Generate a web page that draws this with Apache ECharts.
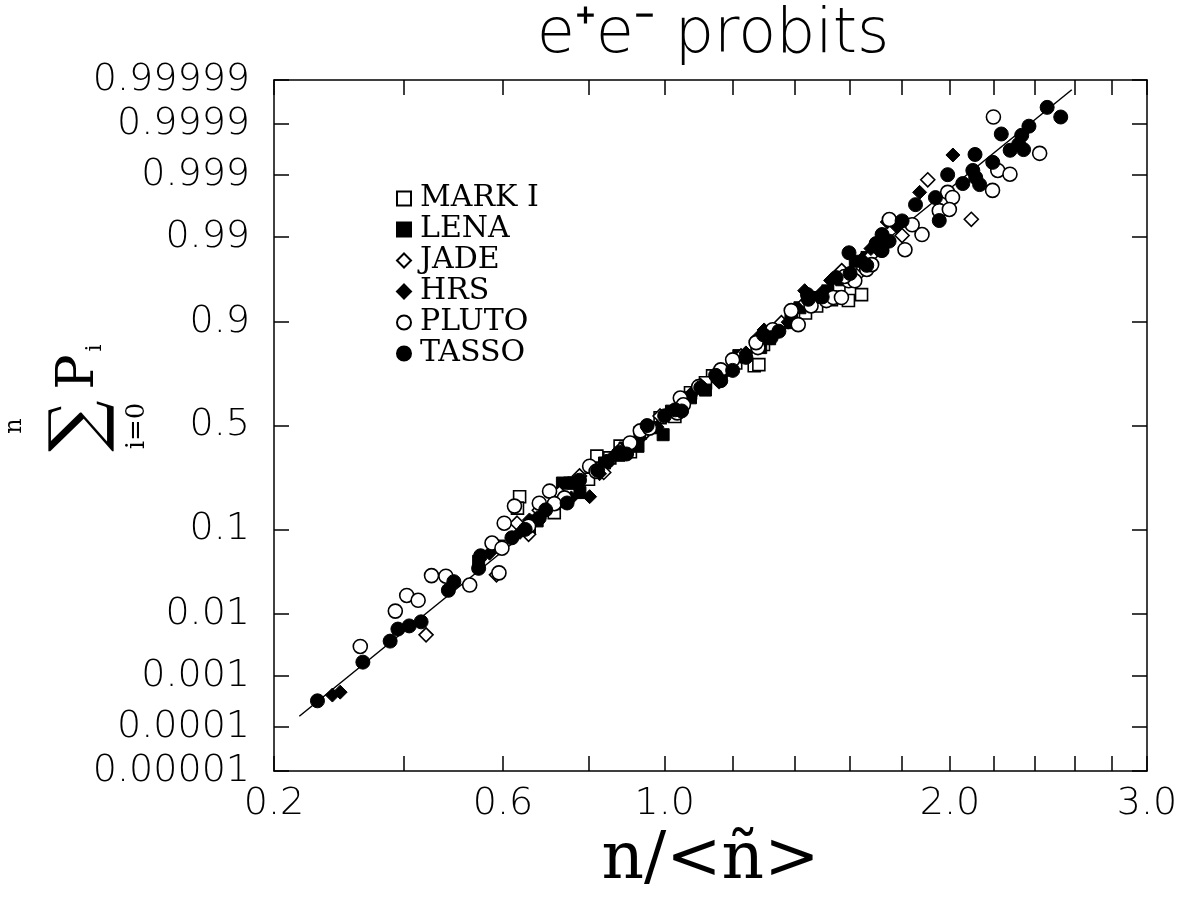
<!DOCTYPE html>
<html><head><meta charset="utf-8">
<script src="https://cdn.jsdelivr.net/npm/echarts@6/dist/echarts.min.js"></script>
<style>html,body{margin:0;padding:0;background:#fff}#c{width:1187px;height:899px}</style>
</head><body><div id="c"></div>
<script>
// ---------- axis definitions ----------
const X_TICKS = [0.2,0.4,0.6,0.8,1.0,1.2,1.4,1.6,1.8,2.0,2.2,2.4,2.6,2.8,3.0];
const X_LABEL_VALUES = [0.2,0.6,1.0,2.0,3.0];
const X_LABELS = ['0.2','0.6','1.0','2.0','3.0'];
// non-linear abscissa scale: relative axis coordinate of each tick value
const X_SCALE_KNOTS = [0,129.8,229,314.6,390.8,458.8,520.5,576.3,628.3,676.3,720.1,761.4,800.8,838.3,873.3];
const Y_TICKS = [0.00001,0.0001,0.001,0.01,0.1,0.5,0.9,0.99,0.999,0.9999,0.99999];
const Y_LABELS = ['0.00001','0.0001','0.001','0.01','0.1','0.5','0.9','0.99','0.999','0.9999','0.99999'];

// ---------- data: n/<n>, cumulative probability ----------
const MARK_X = [0.639,0.634,0.822,0.883,1.270,1.285,1.594,1.644,0.697,0.767,0.936,0.988,1.076,1.141,1.210,1.390,1.480,1.533,0.856,
  0.72,0.80,0.91,1.03,1.12,1.30,1.44,1.56];
const MARK_P = [0.19,0.154,0.353,0.40,0.77,0.774,0.9387,0.947,0.149,0.239,0.464,0.538,0.657,0.73,0.78,0.904,0.93,0.94,0.345,
  0.1412,0.254,0.3733,0.5446,0.7013,0.8413,0.9177,0.9586];
const LENA_X = [0.739,0.756,0.996,0.551,0.592,0.842,0.896,0.962,1.076,1.165,1.291,1.390,1.469,1.570,1.665,0.662,
  0.68,0.78,0.88,0.93,1.02,1.12,1.22,1.32,1.42,1.52,1.62];
const LENA_P = [0.239,0.239,0.455,0.047,0.0685,0.322,0.391,0.489,0.634,0.722,0.832,0.898,0.943,0.964,0.981,0.103,
  0.1196,0.204,0.3568,0.399,0.5706,0.6693,0.806,0.858,0.927,0.9518,0.9787];
const JADE_X = [0.445,0.587,0.633,1.907,2.097,1.723,0.732,0.883,0.988,1.106,1.227,1.358,1.497,1.625,1.800,0.779,0.685,
  0.66,0.84,0.94,1.16,1.31,1.44,1.57,1.68];
const JADE_P = [0.0049,0.0327,0.114,0.99879,0.99455,0.9898,0.202,0.382,0.547,0.688,0.805,0.898,0.9426,0.968,0.9905,0.267,0.148,
  0.0898,0.2813,0.449,0.7068,0.871,0.9357,0.9721,0.9819];
const HRS_X = [0.290,0.302,2.013,1.873,1.302,1.437,1.743,0.803,0.662,0.731,0.935,1.076,1.243,1.497,1.645,0.573,0.829,
  0.64,0.76,0.87,0.98,1.08,1.18,1.28,1.38,1.53,1.68,1.78];
const HRS_P = [0.00044,0.0005,0.99958,0.998,0.881,0.952,0.994,0.19,0.122,0.169,0.44,0.643,0.815,0.949,0.98,0.0576,0.276,
  0.0938,0.186,0.3613,0.492,0.656,0.7463,0.8595,0.899,0.9634,0.98552,0.99296];
const PLUTO_X = [0.333,0.387,0.406,0.429,0.456,0.485,0.533,0.578,0.598,0.603,0.627,0.685,0.709,0.592,0.909,0.936,1.046,1.055,1.037,1.282,1.276,1.414,1.390,1.515,1.540,1.569,1.595,1.618,1.664,1.683,1.812,1.751,1.883,1.842,1.955,1.990,2.011,1.997,2.194,2.219,2.278,2.423,2.198,0.803,1.165,0.744,
  0.66,0.72,0.82,0.96,1.10,1.20,1.33,1.46,1.58,1.72];
const PLUTO_P = [0.0032,0.011,0.018,0.0155,0.032,0.0315,0.0245,0.0735,0.065,0.114,0.16,0.169,0.209,0.0345,0.415,0.474,0.633,0.601,0.562,0.832,0.847,0.8935,0.922,0.9385,0.943,0.943,0.963,0.963,0.973,0.9765,0.985,0.9945,0.9908,0.9934,0.996,0.998,0.99756,0.99617,0.99815,0.99918,0.99904,0.99961,0.99993,0.308,0.754,0.186,
  0.1071,0.1673,0.2857,0.4872,0.6844,0.7913,0.8816,0.930,0.9671,0.98492];
const TASSO_X = [0.267,0.337,0.379,0.391,0.411,0.435,0.490,0.501,0.551,0.555,0.621,0.652,0.685,0.779,0.882,0.954,1.106,1.165,1.243,1.447,1.596,1.723,1.723,1.856,1.939,1.955,1.990,2.058,2.104,2.117,2.135,2.114,2.195,2.236,2.279,2.320,2.335,2.344,2.370,2.461,2.530,0.824,1.031,1.325,1.664,
  0.70,0.75,0.85,0.90,1.00,1.05,1.15,1.20,1.30,1.35,1.45,1.50,1.55,1.60,1.70,1.75,1.80];
const TASSO_P = [0.00034,0.00175,0.0039,0.006,0.0067,0.0077,0.021,0.027,0.039,0.054,0.083,0.10,0.127,0.25,0.37,0.50,0.68,0.71,0.80,0.947,0.9835,0.9846,0.9908,0.9968,0.99755,0.9943,0.99902,0.99859,0.99918,0.9989,0.99853,0.99959,0.99942,0.99984,0.99966,0.99974,0.99983,0.99967,0.99989,0.999957,0.99993,0.29,0.577,0.861,0.976,
  0.149,0.1696,0.3296,0.3628,0.5478,0.5714,0.7324,0.752,0.8686,0.8778,0.9404,0.9438,0.9661,0.9697,0.98765,0.98858,0.99423];
const FIT_X = [0.239, 2.586];
const FIT_P = [0.000167, 0.999983];

// ---------- scale transforms ----------
function probit(p){
  const a=[-3.969683028665376e+01,2.209460984245205e+02,-2.759285104469687e+02,1.383577518672690e+02,-3.066479806614716e+01,2.506628277459239e+00];
  const b=[-5.447609879822406e+01,1.615858368580409e+02,-1.556989798598866e+02,6.680131188771972e+01,-1.328068155288572e+01];
  const c=[-7.784894002430293e-03,-3.223964580411365e-01,-2.400758277161838e+00,-2.549732539343734e+00,4.374664141464968e+00,2.938163982698783e+00];
  const d=[7.784695709041462e-03,3.224671290700398e-01,2.445134137142996e+00,3.754408661907416e+00];
  const pl=0.02425, ph=1-pl; let q,r;
  if(p<pl){q=Math.sqrt(-2*Math.log(p));return (((((c[0]*q+c[1])*q+c[2])*q+c[3])*q+c[4])*q+c[5])/((((d[0]*q+d[1])*q+d[2])*q+d[3])*q+1);}
  if(p<=ph){q=p-0.5;r=q*q;return (((((a[0]*r+a[1])*r+a[2])*r+a[3])*r+a[4])*r+a[5])*q/(((((b[0]*r+b[1])*r+b[2])*r+b[3])*r+b[4])*r+1);}
  q=Math.sqrt(-2*Math.log(1-p));return -(((((c[0]*q+c[1])*q+c[2])*q+c[3])*q+c[4])*q+c[5])/((((d[0]*q+d[1])*q+d[2])*q+d[3])*q+1);
}
function xScale(x){
  const n = X_TICKS.length;
  let i = 0;
  if (x >= X_TICKS[n-1]) i = n-2;
  else { while (i < n-2 && x > X_TICKS[i+1]) i++; }
  const f = (x - X_TICKS[i])/(X_TICKS[i+1]-X_TICKS[i]);
  return X_SCALE_KNOTS[i] + f*(X_SCALE_KNOTS[i+1]-X_SCALE_KNOTS[i]);
}
const pts = (xs, ps) => xs.map((x,i) => [xScale(x), probit(ps[i])]);
const X_MIN = xScale(X_TICKS[0]), X_MAX = xScale(X_TICKS[X_TICKS.length-1]);
const Y_MIN = probit(Y_TICKS[0]), Y_MAX = probit(Y_TICKS[Y_TICKS.length-1]);
const xLabelOf = v => { const i = X_LABEL_VALUES.findIndex(x => Math.abs(xScale(x)-v) < 1e-6); return i<0?'':X_LABELS[i]; };
const yLabelOf = v => { const i = Y_TICKS.findIndex(p => Math.abs(probit(p)-v) < 1e-9); return i<0?'':Y_LABELS[i]; };

const AX = {color:'#000', width:1.5};
const LABEL_FONT = {fontFamily:'DejaVu Sans', fontSize:38, color:'#000', fontWeight:200};
function xAxisCfg(pos, showLabel){
  return {type:'value', position:pos, min:X_MIN, max:X_MAX,
    axisLine:{show:true, onZero:false, lineStyle:AX},
    axisTick:{show:true, inside:true, length:15, lineStyle:AX, customValues:X_TICKS.map(xScale)},
    axisLabel:Object.assign({show:showLabel, margin:14, customValues:X_LABEL_VALUES.map(xScale), formatter:xLabelOf}, LABEL_FONT),
    splitLine:{show:false}};
}
function yAxisCfg(pos, showLabel){
  return {type:'value', position:pos, min:Y_MIN, max:Y_MAX,
    axisLine:{show:true, onZero:false, lineStyle:AX},
    axisTick:{show:true, inside:true, length:15, lineStyle:AX, customValues:Y_TICKS.map(probit)},
    axisLabel:Object.assign({show:showLabel, margin:24, customValues:Y_TICKS.map(probit), formatter:yLabelOf}, LABEL_FONT),
    splitLine:{show:false}};
}
const xBottom = xAxisCfg('bottom', true);
xBottom.name = 'n/<ñ>';
xBottom.nameLocation = 'middle';
xBottom.nameGap = 38;
xBottom.nameTextStyle = {fontFamily:'DejaVu Serif', fontSize:66, color:'#000'};

const open = {color:'#fff', borderColor:'#000', borderWidth:1.6, opacity:1};
const filled = {color:'#000', borderColor:'#000', borderWidth:1, opacity:1};
function sc(name, xs, ps, symbol, size, style){
  return {name, type:'scatter', data:pts(xs,ps), symbol, symbolSize:size, itemStyle:style, silent:true};
}

const chart = echarts.init(document.getElementById('c'));
chart.setOption({
  animation:false,
  backgroundColor:'#fff',
  title:{text:'e⁺e⁻ probits', left:708, top:0, textAlign:'center',
    textStyle:{fontFamily:'DejaVu Sans', fontSize:62, fontWeight:200, color:'#000'}},
  grid:{left:274, right:40, top:80, bottom:124},
  xAxis:[xBottom, xAxisCfg('top', false)],
  yAxis:[yAxisCfg('left', true), yAxisCfg('right', false)],
  legend:{orient:'vertical', left:391, top:178, itemGap:0, itemWidth:14, itemHeight:14,
    textStyle:{fontFamily:'DejaVu Serif', fontSize:30, lineHeight:31, color:'#000', padding:[0,0,0,4]},
    data:['MARK I','LENA','JADE','HRS','PLUTO','TASSO']},
  graphic:[{type:'group', x:81, y:426, rotation:Math.PI/2, children:[
    {type:'text', x:0, y:0, style:{text:'∑', fontSize:72, fontFamily:'DejaVu Serif', fill:'#000', align:'center', verticalAlign:'middle'}},
    {type:'text', x:0, y:-66, style:{text:'n', fontSize:24, fontFamily:'DejaVu Serif', fill:'#000', align:'center', verticalAlign:'middle'}},
    {type:'text', x:0, y:56, style:{text:'i=0', fontSize:26, fontFamily:'DejaVu Serif', fill:'#000', align:'center', verticalAlign:'middle'}},
    {type:'text', x:54, y:-2, style:{text:'P', fontSize:52, fontFamily:'DejaVu Serif', fill:'#000', align:'center', verticalAlign:'middle'}},
    {type:'text', x:78, y:14, style:{text:'i', fontSize:22, fontFamily:'DejaVu Serif', fill:'#000', align:'center', verticalAlign:'middle'}}
  ]}],
  series:[
    {name:'fit', type:'line', data:pts(FIT_X, FIT_P), symbol:'none', silent:true, lineStyle:{color:'#000', width:1.5}, z:1},
    sc('MARK I', MARK_X, MARK_P, 'rect', 12, open),
    sc('LENA', LENA_X, LENA_P, 'rect', 12, filled),
    sc('JADE', JADE_X, JADE_P, 'diamond', 14, open),
    sc('HRS', HRS_X, HRS_P, 'diamond', 14, filled),
    sc('PLUTO', PLUTO_X, PLUTO_P, 'circle', 14, open),
    sc('TASSO', TASSO_X, TASSO_P, 'circle', 14, filled)
  ]
});
</script></body></html>
